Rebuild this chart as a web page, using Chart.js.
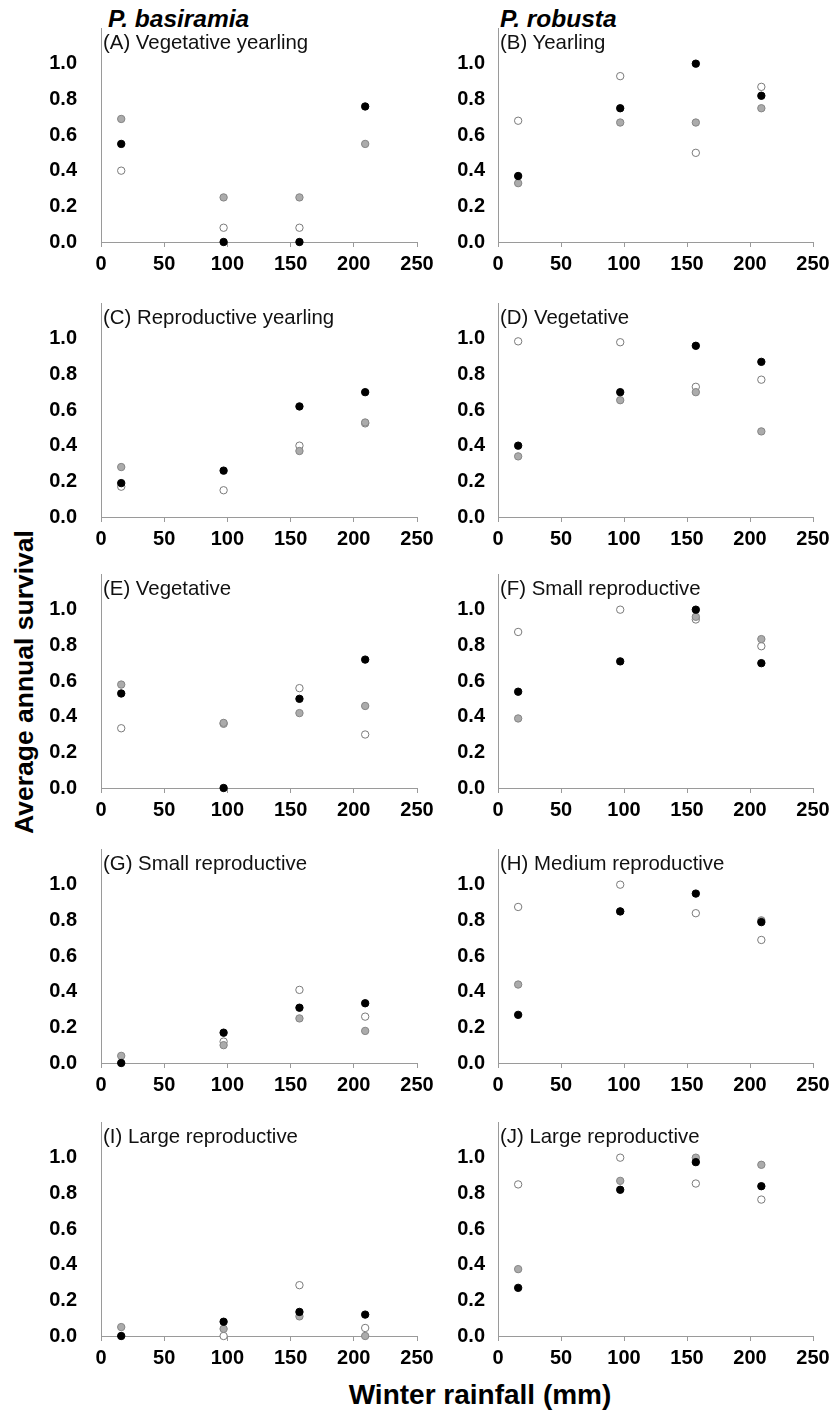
<!DOCTYPE html>
<html>
<head>
<meta charset="utf-8">
<script src="https://cdn.jsdelivr.net/npm/chart.js@4.4.1/dist/chart.umd.min.js"></script>
<style>
	body { margin: 0; background: #fff; }
	#page { position: relative; width: 832px; height: 1410px; overflow: hidden; font-family: "Liberation Sans", Arial, sans-serif; color: #000; }
	.panel { position: absolute; }
	.ptitle { position: absolute; font-size: 20.4px; line-height: 20px; white-space: nowrap; color: #111; }
	.species { position: absolute; font-size: 24.5px; line-height: 24px; font-weight: bold; font-style: italic; white-space: nowrap; }
	#ytitle { position: absolute; left: 24px; top: 682px; transform: translate(-50%, -50%) rotate(-90deg); font-size: 26.5px; font-weight: bold; white-space: nowrap; }
	#xtitle { position: absolute; left: 480px; top: 1381px; transform: translateX(-50%); font-size: 28px; line-height: 28px; font-weight: bold; white-space: nowrap; }
</style>
</head>
<body>
<div id="page">
	<div class="species" style="left:108px; top:7px;">P. basiramia</div>
	<div class="species" style="left:500px; top:7px;">P. robusta</div>
	<div id="ytitle">Average annual survival</div>
	<div id="xtitle">Winter rainfall (mm)</div>
</div>
<script>
// winter rainfall of the four years (x values)
var rainfall = [16, 97, 157, 209];

var panelTitles = [
	'(A) Vegetative yearling', '(B) Yearling',
	'(C) Reproductive yearling', '(D) Vegetative',
	'(E) Vegetative', '(F) Small reproductive',
	'(G) Small reproductive', '(H) Medium reproductive',
	'(I) Large reproductive', '(J) Large reproductive'
];

var xTicks = [0, 50, 100, 150, 200, 250];
var yTicks = [0, 0.2, 0.4, 0.6, 0.8, 1.0];

// survival per panel, one row per panel (A..J), null = not visible
var blackDots = [
	[0.55, 0, 0, 0.76],
	[0.37, 0.75, 1.0, 0.82],
	[0.19, 0.26, 0.62, 0.70],
	[0.40, 0.70, 0.96, 0.87],
	[0.53, 0, 0.50, 0.72],
	[0.54, 0.71, 1.0, 0.70],
	[0, 0.17, 0.31, 0.335],
	[0.27, 0.85, 0.95, 0.79],
	[0, 0.08, 0.135, 0.12],
	[0.27, 0.82, 0.975, 0.84]
];
var grayDots = [
	[0.69, 0.25, 0.25, 0.55],
	[0.33, 0.67, 0.67, 0.75],
	[0.28, null, 0.37, 0.53],
	[0.34, 0.655, 0.70, 0.48],
	[0.58, 0.365, 0.42, 0.46],
	[0.39, null, 0.96, 0.835],
	[0.04, 0.10, 0.25, 0.18],
	[0.44, 0.85, null, 0.80],
	[0.05, 0.04, 0.11, 0],
	[0.375, 0.87, 1.0, 0.96]
];
var openDots = [
	[0.40, 0.08, 0.08, null],
	[0.68, 0.93, 0.50, 0.87],
	[0.17, 0.15, 0.40, 0.525],
	[0.985, 0.98, 0.73, 0.77],
	[0.335, 0.36, 0.56, 0.30],
	[0.875, 1.0, 0.945, 0.795],
	[null, 0.12, 0.41, 0.26],
	[0.875, 1.0, 0.84, 0.69],
	[null, 0, 0.285, 0.045],
	[0.85, 1.0, 0.855, 0.765]
];

// page layout of the plot areas
var colAxisX = [101, 498];
var colPlotW = [316, 315];
var colLabelPad = [24, 13];
var rowBottom = [242, 517, 788, 1063, 1336];
var plotH = 214;      // 0 .. 1.2
var yAxisW = 60, xAxisH = 40, padTop = 42, padRight = 26;
var axisColor = '#9a9a9a';

Chart.defaults.font.family = '"Liberation Sans", Arial, sans-serif';
Chart.defaults.color = '#000';

function toPoints(vals) {
	var pts = [];
	for (var i = 0; i < rainfall.length; i++) {
		if (vals[i] !== null) pts.push({x: rainfall[i], y: vals[i]});
	}
	return pts;
}

function makePanel(p) {
	var row = Math.floor(p / 2), col = p % 2;
	var page = document.getElementById('page');

	var div = document.createElement('div');
	div.className = 'panel';
	div.style.left = (colAxisX[col] - yAxisW) + 'px';
	div.style.top = (rowBottom[row] - plotH - padTop) + 'px';
	var canvas = document.createElement('canvas');
	canvas.width = yAxisW + colPlotW[col] + padRight;
	canvas.height = padTop + plotH + xAxisH;
	div.appendChild(canvas);
	page.appendChild(div);

	var title = document.createElement('div');
	title.className = 'ptitle';
	title.textContent = panelTitles[p];
	title.style.left = (colAxisX[col] + 2) + 'px';
	title.style.top = (rowBottom[row] - 210) + 'px';
	page.appendChild(title);

	var common = {showLine: false, pointRadius: 3.7, pointHoverRadius: 3.7, pointBorderWidth: 1, clip: false};

	new Chart(canvas.getContext('2d'), {
		type: 'scatter',
		data: {
			datasets: [
				Object.assign({label: 'black', data: toPoints(blackDots[p]), backgroundColor: '#000', borderColor: '#000'}, common),
				Object.assign({label: 'gray', data: toPoints(grayDots[p]), backgroundColor: '#ababab', borderColor: '#858585'}, common),
				Object.assign({label: 'open', data: toPoints(openDots[p]), backgroundColor: '#fff', borderColor: '#7a7a7a'}, common)
			]
		},
		options: {
			responsive: false,
			animation: false,
			layout: {padding: {top: padTop, right: padRight, left: 0, bottom: 0}},
			plugins: {legend: {display: false}, tooltip: {enabled: false}},
			scales: {
				x: {
					type: 'linear', min: 0, max: 250,
					afterFit: function (s) { s.height = xAxisH; },
					afterBuildTicks: function (s) { s.ticks = xTicks.map(function (v) { return {value: v}; }); },
					grid: {display: true, drawOnChartArea: false, drawTicks: true, tickLength: 5, color: axisColor},
					border: {display: true, color: axisColor, width: 1},
					ticks: {font: {size: 20, weight: 'bold'}, padding: 5, maxRotation: 0}
				},
				y: {
					type: 'linear', min: 0, max: 1.2,
					afterFit: function (s) { s.width = yAxisW; },
					afterBuildTicks: function (s) { s.ticks = yTicks.map(function (v) { return {value: v}; }); },
					grid: {display: false, drawTicks: false},
					border: {display: true, color: axisColor, width: 1},
					ticks: {
						font: {size: 20, weight: 'bold'},
						padding: colLabelPad[col],
						callback: function (v) { return Number(v).toFixed(1); }
					}
				}
			}
		}
	});
}

for (var p = 0; p < 10; p++) makePanel(p);
</script>
</body>
</html>
